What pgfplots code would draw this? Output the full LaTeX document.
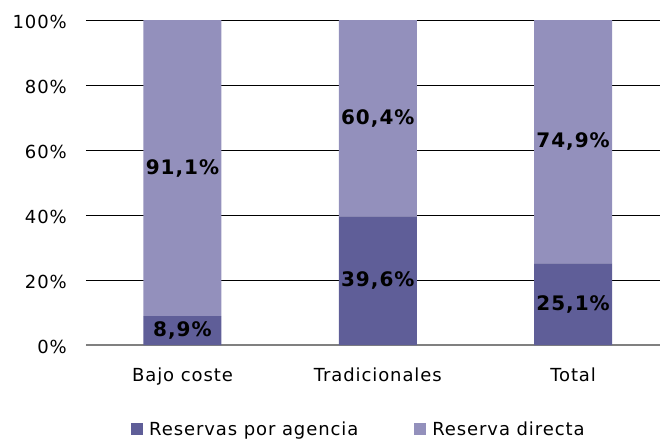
\documentclass[border=0pt]{standalone}
\usepackage{fontspec}
\setmainfont{DejaVu Sans}[LetterSpace=5]
\usepackage{pgfplots}
\pgfplotsset{compat=1.18}
\definecolor{agencia}{HTML}{5F5E98}
\definecolor{directa}{HTML}{9390BC}
\definecolor{axgray}{HTML}{808080}
\begin{document}
\begin{tikzpicture}
\begin{axis}[
  at={(0pt,0pt)}, anchor=south west,
  scale only axis, width=574pt, height=325pt,
  xmin=-0.494, xmax=2.445, ymin=0, ymax=100,
  ybar stacked, bar width=78pt,
  axis x line*=bottom, axis y line*=left,
  y axis line style={draw=none},
  x axis line style={draw=axgray, line width=1.3pt, -},
  ymajorgrids, grid style={black, line width=0.8pt},
  ytick={0,20,40,60,80,100},
  yticklabels={0\%,20\%,40\%,60\%,80\%,100\%},
  xtick={0,1,2},
  xticklabels={Bajo coste,Tradicionales,Total},
  major tick length=0pt, tick style={draw=none},
  tick label style={font=\fontsize{18pt}{21pt}\selectfont, inner sep=0pt},
  yticklabel style={anchor=base east, xshift=-19pt, yshift=-8.5pt},
  xticklabel style={anchor=base, yshift=-36pt},
  legend columns=2,
  legend style={draw=none, fill=none, at={(axis description cs:0.0784,-0.2585)}, anchor=west, inner sep=0pt, font=\fontsize{18pt}{21pt}\selectfont, nodes={inner sep=0pt, anchor=west}, /tikz/every odd column/.append style={column sep=6pt}, /tikz/every even column/.append style={column sep=56pt}},
  legend image code/.code={\fill[#1] (0pt,-6pt) rectangle (12pt,6pt);},
]
\addplot[fill=agencia, draw=none] coordinates {(0,8.9) (1,39.6) (2,25.1)};
\addplot[fill=directa, draw=none] coordinates {(0,91.1) (1,60.4) (2,74.9)};
\legend{Reservas por agencia, Reserva directa}
\end{axis}
% data labels, centred in each segment
\begin{axis}[
  at={(0pt,0pt)}, anchor=south west,
  scale only axis, width=574pt, height=325pt,
  xmin=-0.494, xmax=2.445, ymin=0, ymax=100,
  hide axis, clip=false,
  point meta=explicit symbolic,
  nodes near coords,
  every node near coord/.append style={anchor=center, inner sep=0pt, text=black,
    font=\fontsize{20pt}{22pt}\selectfont\bfseries},
]
\addplot[draw=none, mark=none] coordinates {(0,4.45) [8,9\%] (1,19.8) [39,6\%] (2,12.55) [25,1\%]};
\addplot[draw=none, mark=none] coordinates {(0,54.45) [91,1\%] (1,69.8) [60,4\%] (2,62.55) [74,9\%]};
\end{axis}
\pgfresetboundingbox
\useasboundingbox (-86pt,-95pt) rectangle (574pt,345pt);
\end{tikzpicture}
\end{document}
